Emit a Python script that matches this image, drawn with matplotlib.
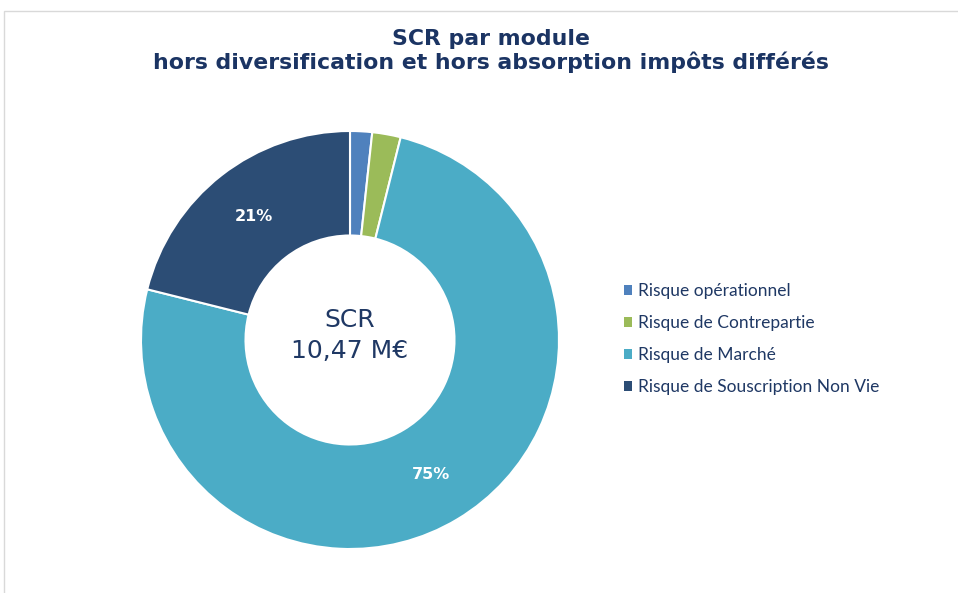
import matplotlib.pyplot as plt
from matplotlib.patches import Rectangle, Patch

categories = ["Risque opérationnel", "Risque de Contrepartie", "Risque de Marché",
              "Risque de Souscription Non Vie"]
values = [1.7, 2.2, 75.0, 21.1]
colors = ["#4F81BD", "#9BBB59", "#4BACC6", "#2C4D75"]
title = "SCR par module\nhors diversification et hors absorption impôts différés"
center_text = "SCR\n10,47 M€"

W, H = 958, 593
fig = plt.figure(figsize=(W / 100, H / 100), dpi=100)
fig.patch.set_facecolor("white")

# border
fig.add_artist(Rectangle((4 / W, -0.1), 1.2, (H - 11) / H + 0.1, transform=fig.transFigure,
                         fill=False, edgecolor="#D9D9D9", linewidth=1.0))

cx, cy, r = 350, 340, 209
ax = fig.add_axes([(cx - r) / W, (H - cy - r) / H, 2 * r / W, 2 * r / H])
ax.set_aspect("equal")

def fmt(p):
    return f"{p:.0f}%" if p > 5 else ""

wedges, texts, autotexts = ax.pie(values, colors=colors, startangle=90, counterclock=False,
                                  radius=1, autopct=fmt, pctdistance=0.75,
                                  wedgeprops=dict(width=0.5, edgecolor="white", linewidth=1.5),
                                  textprops=dict(color="white", fontsize=11.5, fontweight="bold"))
ax.set_xlim(-1, 1)
ax.set_ylim(-1, 1)
ax.axis("off")

ax.text(0, 0.02, center_text, ha="center", va="center", fontsize=18, color="#1F3864",
        linespacing=1.38)

fig.text(491 / W, 1 - 51 / H, title, ha="center", va="center", fontsize=15.8,
         fontweight="bold", color="#1B3463", linespacing=1.1)

handles = [Patch(facecolor=c, edgecolor="none") for c in colors]
leg = fig.legend(handles, categories, loc="center left", bbox_to_anchor=(608 / W, 1 - 339 / H),
                 frameon=False, handlelength=0.5, handleheight=0.5,
                 handletextpad=0.35, labelspacing=0.92, prop=dict(family="Lato", size=12.5))
for t in leg.get_texts():
    t.set_color("#1F3864")

fig.savefig("out.png", dpi=100)
